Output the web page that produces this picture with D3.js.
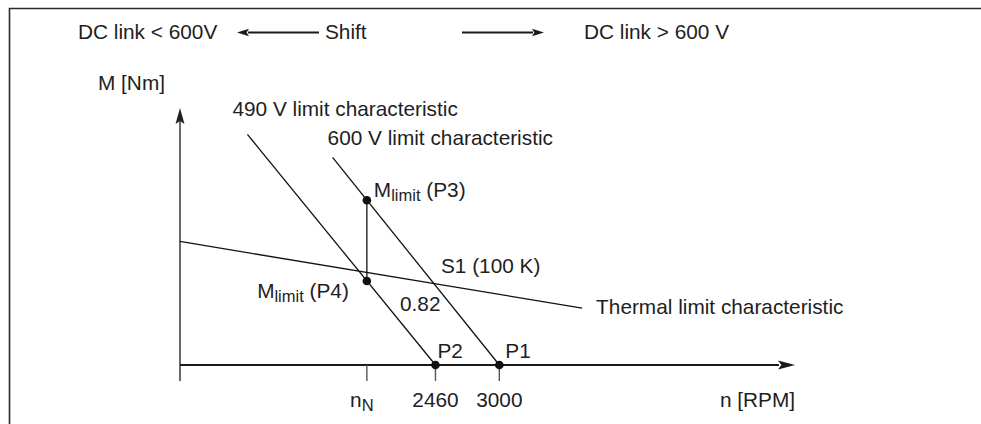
<!DOCTYPE html>
<html>
<head>
<meta charset="utf-8">
<script src="https://cdn.jsdelivr.net/npm/d3@7"></script>
<style>
  body { margin: 0; background: #fff; }
  svg { display: block; }
  text { font-family: "Liberation Sans", Arial, Helvetica, sans-serif; fill: #1e1e1e; }
</style>
</head>
<body>
<svg id="chart" width="981" height="424"></svg>
<script>
// Axis extents: speed n [RPM] and torque M [Nm]
const speedDomain = [300, 5500];
const torqueDomain = [0, 156];

// Speed axis ticks
const tickSpeeds = [1880, 2460, 3000];
const tickLabels = ["n", "2460", "3000"];
const tickSubs = ["N", "", ""];

// Limit characteristics, each as [speed, torque] end points
const limit490 = [[870, 140], [2460, 0]];
const limit600 = [[1590, 126], [3000, 0]];
const thermalLimit = [[300, 75], [3700, 34.5]];

// Marked operating points
const pointNames = ["P1", "P2", "P3", "P4"];
const pointSpeeds = [3000, 2460, 1880, 1880];
const pointTorques = [0, 0, 100, 51];

const FS = 20.8, SUB = 16.5;

const svg = d3.select("#chart");
const x = d3.scaleLinear().domain(speedDomain).range([180, 795]);
const y = d3.scaleLinear().domain(torqueDomain).range([365, 108]);
const line = d3.line().x(d => x(d[0])).y(d => y(d[1]));

// Frame
svg.append("path")
  .attr("d", "M9.5,424 V8.5 H981")
  .attr("fill", "none").attr("stroke", "#2a2a2a").attr("stroke-width", 1.6);

function arrow(g, x1, x2, yy, len, half, color, width) {
  const dir = Math.sign(x2 - x1);
  g.append("line").attr("x1", x1).attr("x2", x2 - dir * (len - 1)).attr("y1", yy).attr("y2", yy)
    .attr("stroke", color).attr("stroke-width", width);
  g.append("path")
    .attr("d", `M${x2},${yy} L${x2 - dir * len},${yy - half} L${x2 - dir * len * 0.8},${yy} L${x2 - dir * len},${yy + half} Z`)
    .attr("fill", color);
}

// Header: shift direction of the DC link voltage
const head = svg.append("g").attr("font-size", FS);
head.append("text").attr("x", 78).attr("y", 39).text("DC link < 600V");
head.append("text").attr("x", 325).attr("y", 39).text("Shift");
head.append("text").attr("x", 584).attr("y", 39).text("DC link > 600 V");
arrow(head, 319, 237, 32.5, 12, 3.8, "#1a1a1a", 2.2);
arrow(head, 462, 544, 32.5, 12, 3.8, "#1a1a1a", 2.2);

// Axes
const axes = svg.append("g");
const x0 = x(speedDomain[0]), xEnd = x(speedDomain[1]);
const y0 = y(0), yEnd = y(torqueDomain[1]);
axes.append("line").attr("x1", x0).attr("x2", x0).attr("y1", y0 + 16).attr("y2", yEnd + 12)
  .attr("stroke", "#6a6a6a").attr("stroke-width", 2);
axes.append("path")
  .attr("d", `M${x0},${yEnd} L${x0 - 4.5},${yEnd + 16} L${x0},${yEnd + 13} L${x0 + 4.5},${yEnd + 16} Z`)
  .attr("fill", "#222");
arrow(axes, x0, xEnd, y0, 17, 4.5, "#1a1a1a", 1.8);

axes.selectAll("line.tick").data(tickSpeeds).join("line").attr("class", "tick")
  .attr("x1", d => x(d)).attr("x2", d => x(d)).attr("y1", y0).attr("y2", y0 + 16)
  .attr("stroke", "#555").attr("stroke-width", 1.4);

const tl = axes.selectAll("text.tl").data(tickSpeeds).join("text").attr("class", "tl")
  .attr("x", (d, i) => x(d) + (tickSubs[i] ? -5 : 0))
  .attr("y", y0 + 42).attr("font-size", FS).attr("text-anchor", "middle");
tl.append("tspan").text((d, i) => tickLabels[i]);
tl.filter((d, i) => tickSubs[i]).append("tspan").attr("dy", 4).attr("font-size", SUB)
  .text(d => tickSubs[tickSpeeds.indexOf(d)]);

axes.append("text").attr("x", xEnd).attr("y", y0 + 42).attr("font-size", FS)
  .attr("text-anchor", "end").text("n [RPM]");
axes.append("text").attr("x", x0 - 15).attr("y", 90).attr("font-size", FS)
  .attr("text-anchor", "end").text("M [Nm]");

// Characteristics
const curves = svg.append("g").attr("fill", "none").attr("stroke", "#111").attr("stroke-width", 1.3);
[limit490, limit600, thermalLimit].forEach(c => curves.append("path").attr("d", line(c)));
curves.append("line")
  .attr("x1", x(pointSpeeds[2])).attr("x2", x(pointSpeeds[3]))
  .attr("y1", y(pointTorques[2])).attr("y2", y(pointTorques[3]));

svg.append("g").selectAll("circle").data(pointNames).join("circle")
  .attr("cx", (d, i) => x(pointSpeeds[i])).attr("cy", (d, i) => y(pointTorques[i]))
  .attr("r", 4.3).attr("fill", "#111");

// Annotations
const ann = svg.append("g").attr("font-size", FS);
ann.append("text").attr("x", x(limit490[0][0]) - 15).attr("y", y(limit490[0][1]) - 18)
  .text("490 V limit characteristic");
ann.append("text").attr("x", x(limit600[0][0]) - 5).attr("y", y(limit600[0][1]) - 12)
  .text("600 V limit characteristic");
ann.append("text").attr("x", x(thermalLimit[1][0]) + 14).attr("y", y(thermalLimit[1][1]) + 6)
  .text("Thermal limit characteristic");
ann.append("text").attr("x", x(pointSpeeds[1]) + 2).attr("y", y(0) - 7).text("P2");
ann.append("text").attr("x", x(pointSpeeds[0]) + 6).attr("y", y(0) - 7).text("P1");
ann.append("text").attr("x", x(2439) + 8).attr("y", y(49.7) - 10).text("S1 (100 K)");
ann.append("text").attr("x", x(2160)).attr("y", y(51) + 30).text("0.82");

function mlimit(xx, yy, tag, anchor) {
  const t = ann.append("text").attr("x", xx).attr("y", yy).attr("text-anchor", anchor);
  t.append("tspan").text("M");
  t.append("tspan").attr("dy", 4).attr("font-size", SUB).text("limit");
  t.append("tspan").attr("dy", -4).text(" (" + tag + ")");
}
mlimit(x(pointSpeeds[2]) + 7, y(pointTorques[2]) - 3, "P3", "start");
mlimit(x(pointSpeeds[3]) - 18, y(pointTorques[3]) + 17, "P4", "end");
</script>
</body>
</html>
